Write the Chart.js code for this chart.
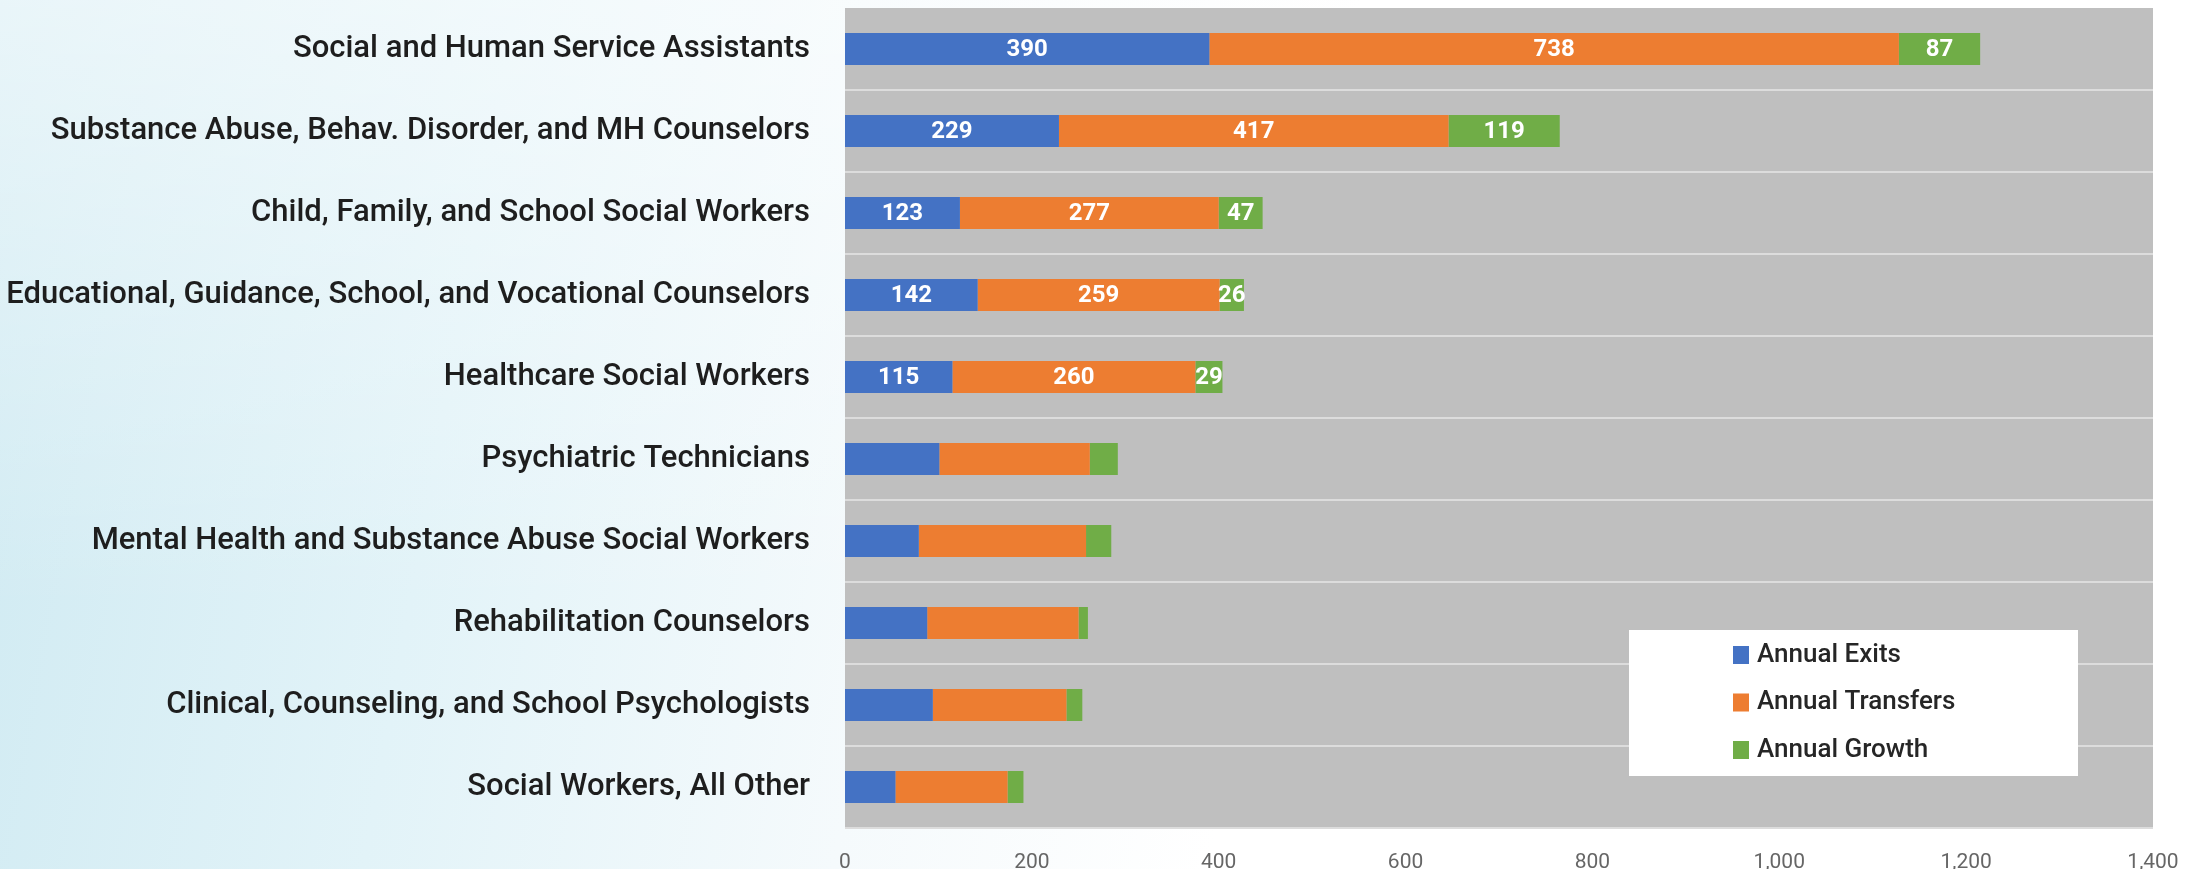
<!DOCTYPE html>
<html>
<head>
<meta charset="utf-8">
<title>Annual Openings by Occupation</title>
<script src="https://cdn.jsdelivr.net/npm/chart.js@4.4.1/dist/chart.umd.min.js"></script>
<style>
  html, body { margin: 0; padding: 0; width: 2197px; height: 869px; overflow: hidden; }
  body {
    background:
      linear-gradient(to bottom, rgba(255,255,255,0.55) 0%, rgba(255,255,255,0) 70%),
      linear-gradient(100deg, #cfeaf2 0%, #e2f3f8 22%, #f5fafc 42%, #ffffff 58%);
  }
  #wrap { position: relative; width: 2197px; height: 869px; }
</style>
</head>
<body>
<div id="wrap"><canvas id="chart"></canvas></div>
<script>
// ── Data ──
const occupations = [
  'Social and Human Service Assistants',
  'Substance Abuse, Behav. Disorder, and MH Counselors',
  'Child, Family, and School Social Workers',
  'Educational, Guidance, School, and Vocational Counselors',
  'Healthcare Social Workers',
  'Psychiatric Technicians',
  'Mental Health and Substance Abuse Social Workers',
  'Rehabilitation Counselors',
  'Clinical, Counseling, and School Psychologists',
  'Social Workers, All Other'
];
const annualExits     = [390, 229, 123, 142, 115, 101, 79, 88, 94, 54];
const annualTransfers = [738, 417, 277, 259, 260, 161, 179, 162, 143, 120];
const annualGrowth    = [87, 119, 47, 26, 29, 30, 27, 10, 17, 17];
const xTickValues = [0, 200, 400, 600, 800, 1000, 1200, 1400];

// only the first rows carry value labels
const labelledRows = 5;

const COLORS = { exits: '#4472C4', transfers: '#ED7D31', growth: '#70AD47' };
const FONT = 'Roboto, "Liberation Sans", Arial, sans-serif';

// ── Gray plot background ──
const plotBackground = {
  id: 'plotBackground',
  beforeDraw(chart) {
    const { ctx, chartArea: a } = chart;
    ctx.save();
    ctx.fillStyle = '#bfbfbf';
    ctx.fillRect(a.left, a.top, a.right - a.left, a.bottom - a.top);
    ctx.restore();
  }
};

// ── Values inside the segments ──
const barValueLabels = {
  id: 'barValueLabels',
  afterDatasetsDraw(chart) {
    const { ctx } = chart;
    ctx.save();
    ctx.font = `700 24px ${FONT}`;
    ctx.fillStyle = '#ffffff';
    ctx.textAlign = 'center';
    ctx.textBaseline = 'middle';
    chart.data.datasets.forEach((ds, di) => {
      chart.getDatasetMeta(di).data.forEach((bar, i) => {
        if (i >= labelledRows) return;
        ctx.fillText(String(ds.data[i]), (bar.x + bar.base) / 2, bar.y + 1);
      });
    });
    ctx.restore();
  }
};

// ── Legend box in the lower right of the plot ──
const boxLegend = {
  id: 'boxLegend',
  afterDraw(chart) {
    const { ctx, chartArea: a } = chart;
    const left = a.right - 524, top = a.bottom - 198;
    ctx.save();
    ctx.fillStyle = '#ffffff';
    ctx.fillRect(left, top, 449, 146);
    ctx.font = `500 26px ${FONT}`;
    ctx.textBaseline = 'middle';
    ctx.textAlign = 'left';
    chart.data.datasets.forEach((ds, i) => {
      const cy = top + 25 + i * 47.5;
      ctx.fillStyle = ds.backgroundColor;
      ctx.fillRect(left + 104, cy - 9, 16, 18);
      ctx.fillStyle = '#262626';
      ctx.fillText(ds.label, left + 128, cy);
    });
    ctx.restore();
  }
};

new Chart(document.getElementById('chart'), {
  type: 'bar',
  data: {
    labels: occupations,
    datasets: [
      { label: 'Annual Exits', data: annualExits, backgroundColor: COLORS.exits },
      { label: 'Annual Transfers', data: annualTransfers, backgroundColor: COLORS.transfers },
      { label: 'Annual Growth', data: annualGrowth, backgroundColor: COLORS.growth }
    ]
  },
  options: {
    indexAxis: 'y',
    responsive: true,
    maintainAspectRatio: false,
    animation: false,
    layout: { padding: { top: 8, right: 44, left: 0, bottom: 0 } },
    datasets: { bar: { categoryPercentage: 1, barPercentage: 0.39, borderWidth: 0 } },
    plugins: {
      legend: { display: false },
      tooltip: { enabled: false }
    },
    scales: {
      x: {
        stacked: true,
        min: 0,
        max: 1400,
        afterBuildTicks: s => { s.ticks = xTickValues.map(v => ({ value: v })); },
        afterFit: s => { s.height = 41; s.paddingLeft = 0; s.paddingRight = 0; },
        grid: { display: false, drawTicks: false },
        border: { display: false },
        ticks: {
          color: '#666666',
          padding: 22,
          font: { family: FONT, size: 21 },
          callback: v => Number(v).toLocaleString('en-US')
        }
      },
      y: {
        stacked: true,
        // fixed axis width, and no extra room for the label padding above/below
        afterFit: s => { s.width = 845; s.paddingTop = 0; s.paddingBottom = 0; },
        grid: {
          drawTicks: false,
          lineWidth: 2,
          color: c => (c.index === 0 || c.index === occupations.length) ? 'rgba(0,0,0,0)' : '#dcdcdc'
        },
        border: { display: false },
        ticks: {
          color: '#1e1e1e',
          padding: 35,
          autoSkip: false,
          font: { family: FONT, size: 31, weight: '500' }
        }
      }
    }
  },
  plugins: [plotBackground, barValueLabels, boxLegend]
});
</script>
</body>
</html>
